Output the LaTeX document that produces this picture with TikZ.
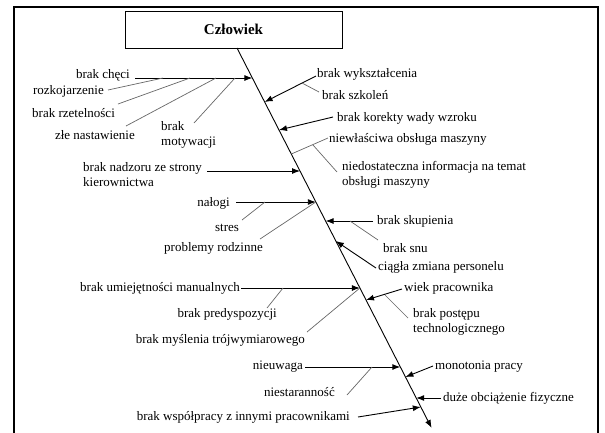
\documentclass[tikz,border=0pt]{standalone}
\usepackage{fontspec}
\setmainfont{Liberation Serif}
\usetikzlibrary{arrows.meta}

\begin{document}
\begin{tikzpicture}[
  x=1pt,y=-1pt,
  font=\fontsize{13}{15}\selectfont,
  lbl/.style={inner sep=0pt,align=left},
  headbox/.style={draw,line width=1pt,minimum width=217pt,minimum height=37pt,
                  inner sep=0pt,font=\fontsize{15}{17}\selectfont\bfseries},
  frame/.style={line width=1.2pt},
  spine/.style={-{Latex[length=8pt,width=6pt]},line width=0.9pt},
  arr/.style={-{Latex[length=8pt,width=6pt]},line width=0.9pt},
  sub/.style={draw=black!60,line width=0.7pt},
]
\useasboundingbox (0,0) rectangle (605,432);

% ---- Frame and head -------------------------------------------------------
\draw[frame] (14,445) -- (14,7) -- (598,7) -- (598,445);
\node[headbox] (head) at (233.5,29.5) {Człowiek};

% ---- Points on the spine --------------------------------------------------
\coordinate (sTop) at (237,48);
\coordinate (sEnd) at (431.6,428);
\coordinate (pChec) at (252.4,78);
\coordinate (pWyks) at (264.6,102);
\coordinate (pKore) at (279.0,130);
\coordinate (pNiew) at (291.3,154);
\coordinate (pNadz) at (300.0,171);
\coordinate (pNalo) at (315.8,202);
\coordinate (pSkup) at (325.6,221);
\coordinate (pCiag) at (335.8,241);
\coordinate (pUmie) at (359.9,288);
\coordinate (pWiek) at (366.0,300);
\coordinate (pNieu) at (400.3,367);
\coordinate (pMono) at (405.4,377);
\coordinate (pDuze) at (416.2,398);
\coordinate (pWspo) at (420.8,407);

\draw[spine] (sTop) -- (sEnd);

% ---- Labels, left side ----------------------------------------------------
\node[lbl,anchor=east] (tChec) at (130,75)  {brak chęci};
\node[lbl,anchor=east] (tRozk) at (104,91)  {rozkojarzenie};
\node[lbl,anchor=west] (tRzet) at (32,113)  {brak rzetelności};
\node[lbl,anchor=east] (tNast) at (135,135) {złe nastawienie};
\node[lbl,anchor=west] (tMoty) at (161,135) {brak\\motywacji};
\node[lbl,anchor=west] (tNadz) at (83,174.5) {brak nadzoru ze strony\\kierownictwa};
\node[lbl,anchor=east] (tNalo) at (230,203) {nałogi};
\node[lbl]             (tStre) at (227,228) {stres};
\node[lbl,anchor=east] (tProb) at (263,248) {problemy rodzinne};
\node[lbl,anchor=east] (tUmie) at (240,288) {brak umiejętności manualnych};
\node[lbl,anchor=east] (tPred) at (277,314) {brak predyspozycji};
\node[lbl,anchor=east] (tMysl) at (305,340) {brak myślenia trójwymiarowego};
\node[lbl,anchor=east] (tNieu) at (303,367) {nieuwaga};
\node[lbl,anchor=east] (tNies) at (335,392) {niestaranność};
\node[lbl,anchor=east] (tWspo) at (350,417) {brak współpracy z innymi pracownikami};

% ---- Labels, right side ---------------------------------------------------
\node[lbl,anchor=west] (tWyks) at (317,74)  {brak wykształcenia};
\node[lbl,anchor=west] (tSzko) at (322,95)  {brak szkoleń};
\node[lbl,anchor=west] (tKore) at (337,118) {brak korekty wady wzroku};
\node[lbl,anchor=west] (tNiew) at (329,139) {niewłaściwa obsługa maszyny};
\node[lbl,anchor=west] (tNied) at (342,174.5) {niedostateczna informacja na temat\\obsługi maszyny};
\node[lbl,anchor=west] (tSkup) at (377,221) {brak skupienia};
\node[lbl,anchor=west] (tSnu)  at (383,248) {brak snu};
\node[lbl,anchor=west] (tCiag) at (378,267) {ciągła zmiana personelu};
\node[lbl,anchor=west] (tWiek) at (404,288) {wiek pracownika};
\node[lbl,anchor=west] (tPost) at (413,322) {brak postępu\\technologicznego};
\node[lbl,anchor=west] (tMono) at (435,367) {monotonia pracy};
\node[lbl,anchor=west] (tDuze) at (443,398) {duże obciążenie fizyczne};

% ---- Free ends and joints of the bones ------------------------------------
\coordinate (aChec) at (135,78);
\coordinate (aRozk) at (108,90);   \coordinate (jRozk) at (163,78);
\coordinate (aRzet) at (118,104);  \coordinate (jRzet) at (190,78);
\coordinate (aNast) at (126,126);  \coordinate (jNast) at (216,78);
\coordinate (aMoty) at (194,123);  \coordinate (jMoty) at (235,78);
\coordinate (aWyks) at (316,76);   \coordinate (jSzko) at (302,83);
\coordinate (aSzko) at (319,92);
\coordinate (aKore) at (333,117);
\coordinate (aNiew) at (328,138);  \coordinate (jNied) at (313,145);
\coordinate (aNied) at (337,172);
\coordinate (aNadz) at (207,171);
\coordinate (aNalo) at (236,202);  \coordinate (jStre) at (265,202);
\coordinate (aStre) at (242,220);
\coordinate (aProb) at (260,239);
\coordinate (aSkup) at (373,221);  \coordinate (jSnu)  at (350,221);
\coordinate (aSnu)  at (378,240);
\coordinate (aCiag) at (376,268);
\coordinate (aUmie) at (241,288);  \coordinate (jPred) at (283,288);
\coordinate (aPred) at (267,308);
\coordinate (aMysl) at (307,332);
\coordinate (aWiek) at (402,289);  \coordinate (jPost) at (385,295);
\coordinate (aPost) at (408,318);
\coordinate (aNieu) at (305,367);  \coordinate (jNies) at (372,367);
\coordinate (aNies) at (347,395);
\coordinate (aMono) at (433,366);
\coordinate (aDuze) at (441,398);
\coordinate (aWspo) at (358,417);

% ---- Main bones -----------------------------------------------------------
\foreach \from/\to in {aChec/pChec, aWyks/pWyks, aKore/pKore, aNadz/pNadz,
                       aNalo/pNalo, aSkup/pSkup, aCiag/pCiag, aUmie/pUmie,
                       aWiek/pWiek, aNieu/pNieu, aMono/pMono, aDuze/pDuze,
                       aWspo/pWspo}{
  \draw[arr] (\from) -- (\to);
}
\draw[sub] (aNiew) -- (pNiew);

% ---- Small bones ----------------------------------------------------------
\foreach \from/\to in {aRozk/jRozk, aRzet/jRzet, aNast/jNast, aMoty/jMoty,
                       aSzko/jSzko, aNied/jNied, aStre/jStre, aProb/pNalo,
                       aSnu/jSnu, aPred/jPred, aMysl/pUmie, aPost/jPost,
                       aNies/jNies}{
  \draw[sub] (\from) -- (\to);
}

\end{tikzpicture}
\end{document}
